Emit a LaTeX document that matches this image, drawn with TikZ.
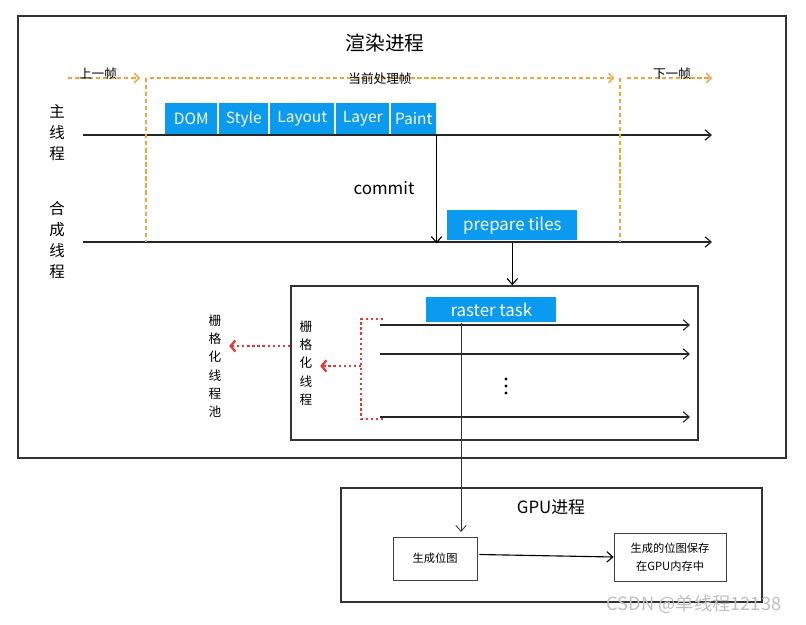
\documentclass[tikz,border=0pt]{standalone}
\usepackage{fontspec}
\setmainfont{Noto Sans CJK SC}
\usetikzlibrary{positioning, arrows.meta}
\definecolor{stageblue}{HTML}{0A9BF0}
\definecolor{frameorange}{HTML}{F5A23A}
\definecolor{poolred}{HTML}{E53935}

\begin{document}
\begin{tikzpicture}[
    % GLOBAL CFG
    x=0.025cm, y=-0.025cm,
    font=\small,
    >={Straight Barb[length=1.5mm, width=2.6mm]},
    % Styles
    proc/.style={% For process boxes
        rectangle,
        draw=black!80,
        line width=0.9pt,
    },
    stage/.style={% For blue stage boxes
        rectangle,
        fill=stageblue,
        text=white,
        font=\fontsize{11}{13}\selectfont,
        inner sep=0pt,
        anchor=north west,
    },
    step box/.style={% For boxes in the GPU process
        rectangle,
        draw=black!75,
        font=\fontsize{8}{13}\selectfont,
        align=center,
    },
    vlabel/.style={% For vertical labels
        align=center,
        font=\fontsize{11}{15}\selectfont,
    },
    vsmall/.style={% For small vertical labels
        align=center,
        font=\fontsize{9}{13}\selectfont,
    },
    frame/.style={% For orange frame marks
        draw=frameorange,
        densely dashed,
        line width=1pt,
    },
    pool/.style={% For red dotted marks
        draw=poolred,
        dotted,
        line width=1.6pt,
    },
    axis/.style={% For thread time axes
        ->,
        draw=black!85,
        line width=0.9pt,
    },
    ]

    \useasboundingbox (0,0) rectangle (806,624);

    % Process boxes
    \node [proc, minimum width=19.2cm, minimum height=11.05cm] (render) at (402,237) {};
    \node [font=\fontsize{14}{16}\selectfont] (rtitle) at (385,43) {渲染进程};
    \node [proc, minimum width=10.525cm, minimum height=2.85cm] (gpu) at (551.5,545) {};
    \node [font=\fontsize{12}{14}\selectfont] (gtitle) at (551,507) {GPU进程};

    % Frames
    \coordinate (prev) at (68,78);
    \coordinate (cur) at (146,78);
    \coordinate (curend) at (620,78);
    \coordinate (nextend) at (712,78);
    \draw [frame, ->, >={Straight Barb[length=1.2mm, width=2.4mm]}] (prev) -- ++(72,0);
    \draw [frame, ->, >={Straight Barb[length=1.2mm, width=2.4mm]}] ([xshift=3]cur) -- ([xshift=-4]curend);
    \draw [frame, ->, >={Straight Barb[length=1.2mm, width=2.4mm]}] ([xshift=5]curend) -- (nextend);
    \node [font=\fontsize{9}{11}\selectfont] (lprev) at (98,74) {上一帧};
    \node [font=\fontsize{9}{11}\selectfont] (lcur) at (380,79) {当前处理帧};
    \node [font=\fontsize{9}{11}\selectfont] (lnext) at (672,74) {下一帧};

    % Threads
    \coordinate (main) at (83,135);
    \coordinate (comp) at (83,242);
    \draw [axis] (main) -- (712,135);
    \draw [axis] (comp) -- (712,242);
    \draw [frame] (cur) -- (cur |- comp);
    \draw [frame] (curend) -- (curend |- comp);
    \node [vlabel] (lmain) at (57,133) {主\\线\\程};
    \node [vlabel] (lcomp) at (57,240) {合\\成\\线\\程};

    % Main thread stages
    \node [stage, minimum width=1.3cm, minimum height=0.775cm] (dom) at (165,103) {DOM};
    \node [stage, minimum width=1.225cm, minimum height=0.775cm] (style) at (219,103) {Style};
    \node [stage, minimum width=1.6cm, minimum height=0.775cm] (layout) at (270,103) {Layout};
    \node [stage, minimum width=1.325cm, minimum height=0.775cm] (layer) at (336,103) {Layer};
    \node [stage, minimum width=1.125cm, minimum height=0.775cm] (paint) at (391,103) {Paint};

    % Compositor
    \node [stage, minimum width=3.25cm, minimum height=0.75cm, font=\fontsize{12}{14}\selectfont] (prep) at (447,210) {prepare tiles};
    \draw [->, line width=0.8pt] (paint.south east) -- ([yshift=-1]paint.south east |- comp);
    \node [font=\fontsize{12}{14}\selectfont] (lcommit) at (384,188) {commit};

    % Raster
    \node [proc, minimum width=10.175cm, minimum height=3.85cm] (rbox) at (494.5,363) {};
    \draw [->, line width=0.8pt] (prep.south) ++(0,2) -- (prep.south |- rbox.north);
    \node [stage, minimum width=3.25cm, minimum height=0.625cm, font=\fontsize{12}{14}\selectfont] (rtask) at (426,297) {raster task};
    \foreach \y [count=\i] in {325,354,417} {
        \coordinate (t\i) at (380,\y);
        \draw [axis, line width=0.8pt] (t\i) -- (690,\y);
    }
    % more threads
    \foreach \y in {379,386,393}
        \fill (506,\y) circle (1.6);

    % Raster threads
    \node [vsmall] (lthread) at (306,363) {栅\\格\\化\\线\\程};
    \node [vsmall] (lpool) at (215,366) {栅\\格\\化\\线\\程\\池};
    \coordinate (brtop) at (383,319);
    \coordinate (brbot) at (383,419);
    \coordinate (brmid) at (361,366);
    \draw [pool] (brtop) -- ++(-22,0) |- (brbot);
    \draw [pool, ->, >={Straight Barb[length=1.2mm, width=2.8mm]}] (brmid) -- ([xshift=2]lthread.east |- brmid);
    \coordinate (rout) at (290,346);
    \draw [pool, ->, >={Straight Barb[length=1.2mm, width=2.8mm]}] (rout) -- ([xshift=2]lpool.east |- rout);

    % GPU
    \node [step box, minimum width=2.1cm, minimum height=1.075cm] (bitmap) at (435,558.5) {生成位图};
    \node [step box, minimum width=2.8cm, minimum height=1.2cm] (store) at (670,557) {生成的位图保存\\在GPU内存中};
    \coordinate (gin) at (461,532);
    \draw [->, black!80, line width=0.6pt] (gin |- rtask.south) -- (gin);
    \draw [->, line width=0.8pt] (bitmap.east) ++(2,-4) -- (store.west);

    % Text
    \node [text=black!25, font=\fontsize{13}{15}\selectfont] (mark) at (694,604) {CSDN @单线程12138};

\end{tikzpicture}
\end{document}
